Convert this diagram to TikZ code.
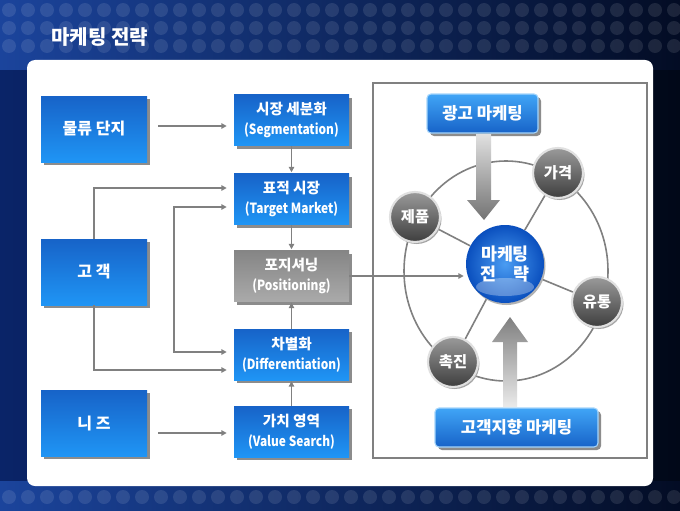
\documentclass[tikz,border=0pt]{standalone}
\usepackage{fontspec}
\newfontfamily\kr{Noto Sans CJK KR}
\newfontfamily\kren{Noto Sans CJK KR}[FakeStretch=0.85]
\usetikzlibrary{arrows.meta,shadings}
\newdimen\pxu \pxu=0.75pt
\pgfdeclarelayer{back}\pgfdeclarelayer{bg}\pgfsetlayers{back,bg,main}
\definecolor{boxtop}{HTML}{1763C8}
\definecolor{boxbot}{HTML}{1F95F5}
\definecolor{graytop}{HTML}{858585}
\definecolor{graybot}{HTML}{AAAAAA}
\definecolor{shadowc}{HTML}{8C8C8C}
\definecolor{linec}{HTML}{808080}
\definecolor{bgL}{HTML}{1B449C}
\definecolor{bgM}{HTML}{4F97B2}
\definecolor{bgR}{HTML}{030C24}
\definecolor{sideL}{HTML}{0A2468}
\definecolor{sideR}{HTML}{010818}
\definecolor{sphin}{HTML}{4A9CF2}
\definecolor{sphout}{HTML}{0A4FBE}
\definecolor{ballin}{HTML}{9A9A9A}
\definecolor{ballout}{HTML}{3E3E3E}
\tikzset{
  boxshadow/.style={preaction={fill=shadowc, transform canvas={shift={(3\pxu,-3\pxu)}}}},
  boxtext/.style={text=white, align=center, font=\kr\bfseries\fontsize{11}{15}\selectfont},
  lbox/.style={boxshadow, text=white, font=\kr\bfseries\fontsize{12}{15}\selectfont, top color=boxtop, bottom color=boxbot, minimum width=106\pxu, minimum height=66\pxu, inner sep=0pt},
  mbox/.style={boxshadow, boxtext, top color=boxtop, bottom color=boxbot, minimum width=115\pxu, minimum height=51\pxu, inner sep=0pt},
  gbox/.style={boxshadow, boxtext, top color=graytop, bottom color=graybot, minimum width=115\pxu, minimum height=51\pxu, inner sep=0pt},
  rbox/.style={boxshadow, text=white, font=\kr\bfseries\fontsize{12.5}{14}\selectfont, rounded corners=3pt, top color=boxbot!85!white, bottom color=boxtop, draw=boxbot!40!white, line width=0.8pt, minimum height=39\pxu, inner sep=0pt},
  ball4p/.style={circle, top color=ballin, bottom color=ballout, draw=black!12, line width=1.6pt, minimum size=50\pxu, inner sep=0pt, text=white, font=\kr\bfseries\fontsize{11.5}{12}\selectfont,
     preaction={fill=black!35, transform canvas={shift={(1.5\pxu,-2\pxu)}}}},
  conn/.style={draw=linec, line width=1.4pt, -{Triangle[length=4pt,width=4pt]}},
  spoke/.style={draw=linec, line width=1.2pt},
}
\begin{document}
\begin{tikzpicture}[x=0.75pt,y=-0.75pt]
\useasboundingbox (0,0) rectangle (680,510);
\begin{pgfonlayer}{back}
\shade[left color=bgL, middle color=bgM, right color=bgR] (0,0) rectangle (680,510);
\shade[left color=sideL, right color=sideR] (0,70) rectangle (680,480);
\foreach \yy in {10,28,46,497} {
  \foreach \xx in {9,28,...,680} {
    \fill[white, opacity=0.1] (\xx,\yy) circle[radius=7];
  }
}
\fill[white, rounded corners=6pt] (27,60) rectangle (653,486);
\end{pgfonlayer}
\node[font=\kr\bfseries\fontsize{15}{17}\selectfont, text=white, anchor=west, inner sep=0pt] (title) at (51,37) {마케팅 전략};

% left boxes
\node[lbox] (mul) at (94,129) {물류 단지};
\node[lbox] (go) at (94,272) {고 객};
\node[lbox] (ni) at (94,423) {니 즈};

% middle boxes
\node[mbox] (seg) at (291.5,120) {시장 세분화\\{\kren\fontsize{10.5}{15}\selectfont (Segmentation)}};
\node[mbox] (tgt) at (291.5,199) {표적 시장\\{\kren\fontsize{10.5}{15}\selectfont (Target Market)}};
\node[gbox] (pos) at (291.5,276) {포지셔닝\\{\kren\fontsize{10.5}{15}\selectfont (Positioning)}};
\node[mbox] (dif) at (291.5,354.5) {차별화\\{\kren\fontsize{10.5}{15}\selectfont (Differentiation)}};
\node[mbox] (val) at (291.5,431.5) {가치 영역\\{\kren\fontsize{10.5}{15}\selectfont (Value Search)}};

% connectors left/middle
\draw[conn, shorten <=11\pxu, shorten >=7\pxu] (mul.east |- 0,126) -- (seg.west |- 0,126);
\draw[conn, shorten >=1\pxu] (seg.south) -- (tgt.north);
\draw[conn, shorten >=1\pxu] (tgt.south) -- (pos.north);
\draw[conn, shorten >=1\pxu] (dif.north) -- (pos.south);
\draw[conn, shorten >=1\pxu] (val.north) -- (dif.south);
\coordinate (t1) at (tgt.west |- 0,188);
\coordinate (t2) at (tgt.west |- 0,207);
\coordinate (d1) at (dif.west |- 0,352);
\coordinate (d2) at (dif.west |- 0,370);
\draw[conn, shorten >=7\pxu] (go.north) |- (t1);
\draw[conn, shorten >=7\pxu] (go.south) |- (d2);
\draw[conn, {Triangle[length=4pt,width=4pt]}-{Triangle[length=4pt,width=4pt]}, shorten <=7\pxu, shorten >=7\pxu] (t2) -- ++(-60,0) |- (d1);
\draw[conn, shorten <=11\pxu, shorten >=7\pxu] (ni.east |- 0,433) -- (val.west |- 0,433);

% right part
\node[ball4p] (price) at (558,173) {가격};
\node[ball4p] (prod) at (415,217) {제품};
\node[ball4p] (dist) at (597,302) {유통};
\node[ball4p] (prom) at (453,362) {촉진};
\node[circle, inner color=sphin, outer color=sphout, minimum size=78\pxu, inner sep=0pt, text=white, font=\kr\bfseries\fontsize{13}{15}\selectfont, align=center,
  preaction={fill=black!30, transform canvas={shift={(1.5\pxu,-2\pxu)}}}] (ms) at (505,264) {마케팅\\전\hspace{1em}략};
\fill[white, opacity=0.3] (505,287) ellipse[x radius=29, y radius=9];

\begin{pgfonlayer}{bg}
  \draw[linec, line width=1.5pt] (373,83) rectangle (647,458);
  \draw[spoke] (506,271) ellipse[x radius=102, y radius=110];
  \draw[spoke] (ms) -- (price);
  \draw[spoke] (ms) -- (prod);
  \draw[spoke] (ms) -- (dist);
  \draw[spoke] (ms) -- (prom);
\end{pgfonlayer}

\draw[conn, shorten >=2\pxu] (pos.east) -- (pos.east -| ms.west);

\node[rbox, minimum width=111\pxu] (ad) at (482.5,113.5) {광고 마케팅};
\node[rbox, minimum width=163\pxu] (cust) at (516.5,427.5) {고객지향 마케팅};

% block arrows
\shade[top color=black!12, bottom color=black!55] (476,134) -- (491,134) -- (491,200) -- (500,200) -- (484,220) -- (467,200) -- (476,200) -- cycle;
\shade[top color=black!50, bottom color=black!8] (503,407) -- (517,407) -- (517,342) -- (528,342) -- (510,317) -- (492,342) -- (503,342) -- cycle;
\end{tikzpicture}
\end{document}
